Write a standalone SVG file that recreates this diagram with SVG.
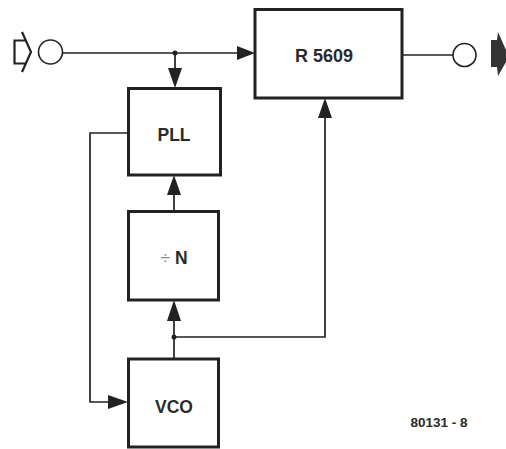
<svg xmlns="http://www.w3.org/2000/svg" width="506" height="449" viewBox="0 0 506 449">
<defs>
<style>
.box{fill:#fff;stroke:#222;stroke-width:3}
.wire{fill:none;stroke:#222;stroke-width:1.7}
.lbl{font-family:"Liberation Sans",Arial,sans-serif;font-weight:bold;fill:#2a2a2a;text-anchor:middle}
.arr{fill:#222}
</style>
</defs>
<rect width="506" height="449" fill="#fff"/>
<g id="connectors">
<path class="wire" d="M63,53 H240"/>
<path class="arr" d="M255,53 L237,46 L237,60 Z"/>
<path class="wire" d="M175,53 V72"/>
<path class="arr" d="M175,88 L168,68 L182,68 Z"/>
<circle class="arr" cx="175" cy="53" r="2.5"/>
<path class="wire" d="M402,55 H453"/>
<path class="wire" d="M174,211 V190"/>
<path class="arr" d="M174,175 L167,195 L181,195 Z"/>
<path class="wire" d="M174,359 V318"/>
<path class="arr" d="M174,300 L167,321 L181,321 Z"/>
<circle class="arr" cx="174" cy="337" r="2.5"/>
<path class="wire" d="M174,337 H325 V115"/>
<path class="arr" d="M325,98 L318,118 L332,118 Z"/>
<path class="wire" d="M128,133 H90 V402 H112"/>
<path class="arr" d="M128,402 L108,395 L108,409 Z"/>
</g>
<g id="input">
<path d="M22,32 L31,52 L22,72 M26,40.5 H14.5 V63.5 H26" fill="none" stroke="#222" stroke-width="2.2"/>
<circle cx="50.5" cy="52" r="12" fill="#fff" stroke="#222" stroke-width="1.6"/>
</g>
<g id="output">
<circle cx="464.5" cy="55" r="11.5" fill="#fff" stroke="#222" stroke-width="1.6"/>
<path d="M491,40 H497 L498,32 L506,50 V62 L498,76 L497,67 H491 Z" fill="#333"/>
</g>
<g id="r5609">
<rect class="box" x="255" y="9.5" width="147" height="88.5"/>
<text class="lbl" x="324" y="61.5" font-size="18">R 5609</text>
</g>
<g id="pll">
<rect class="box" x="128.5" y="88.5" width="92" height="86.5"/>
<text class="lbl" x="174" y="140.5" font-size="17.5">PLL</text>
</g>
<g id="divn">
<rect class="box" x="128.5" y="211.5" width="90" height="88.5"/>
<text class="lbl" x="174" y="264" font-size="17.5"><tspan font-weight="normal" fill="#888">÷</tspan> N</text>
</g>
<g id="vco">
<rect class="box" x="128.5" y="359" width="90" height="88"/>
<text class="lbl" x="174" y="413" font-size="17.5">VCO</text>
</g>
<text class="lbl" x="439" y="427" font-size="13.5">80131 - 8</text>
</svg>
